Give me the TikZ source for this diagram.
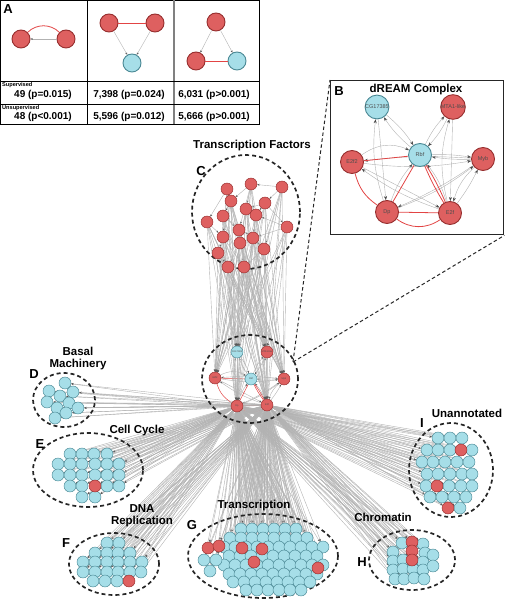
\documentclass[tikz,border=0pt]{standalone}
\usepackage{fontspec}
\setmainfont{Liberation Sans}
\usetikzlibrary{arrows.meta}

\definecolor{tfred}{RGB}{222,96,96}
\definecolor{tfrim}{RGB}{150,46,46}
\definecolor{geneblue}{RGB}{166,222,232}
\definecolor{generim}{RGB}{74,136,148}
\definecolor{linkgray}{RGB}{178,178,178}
\definecolor{linkred}{RGB}{226,68,68}

\pgfdeclarelayer{background}
\pgfsetlayers{background,main}

\tikzset{
  rnode/.style={circle, draw=tfrim, fill=tfred, line width=0.45pt, minimum size=12pt, inner sep=0pt},
  bnode/.style={circle, draw=generim, fill=geneblue, line width=0.45pt, minimum size=12pt, inner sep=0pt},
  motif/.style={minimum size=18pt, line width=0.9pt},
  dream/.style={minimum size=23pt, line width=0.9pt, font=\fontsize{5.5}{6}\selectfont, text=black!70},
  hubtext/.style={font=\fontsize{2.4}{3}\selectfont, text=black!70},
  groupring/.style={draw=black!85, line width=1.7pt, dash pattern=on 4pt off 3pt},
  zoomline/.style={draw=black!85, line width=1pt, dash pattern=on 3.5pt off 2.5pt},
  grouplabel/.style={font=\fontsize{11.5}{12}\selectfont\bfseries, align=center},
  panellabel/.style={font=\fontsize{13}{13}\selectfont\bfseries},
  tally/.style={font=\fontsize{10}{11}\selectfont\bfseries},
  rowhead/.style={font=\fontsize{5.6}{6}\selectfont\bfseries, anchor=west, inner sep=0pt},
  link/.style={draw=linkgray, line width=0.4pt},
  redlink/.style={draw=linkred, line width=0.8pt},
  arrowed/.style={-{Stealth[length=2.4pt,width=1.9pt,color=black!65]}},
  bigarrow/.style={-{Stealth[length=4pt,width=3pt,color=black!70]}}
}

\begin{document}
\begin{tikzpicture}[x=1pt,y=-1pt]
\useasboundingbox (0,0) rectangle (507,601);

% ---- A: motif table
\draw[line width=0.8pt] (0.5,0.5) rectangle (259.5,124.5);
\draw[line width=0.8pt] (87,0.5) -- (87,124.5);
\draw[line width=1.2pt, gray] (174,0.5) -- (174,124.5);
\draw[line width=0.8pt] (0.5,81) -- (259.5,81);
\draw[line width=0.6pt] (0.5,104) -- (259.5,104);
\node[panellabel] (letA) at (8,9) {A};

\node[rnode,motif] (mot1a) at (21,39) {};
\node[rnode,motif] (mot1b) at (66,39) {};
\draw[redlink] (mot1a) to[bend left=45] (mot1b);
\draw[link,arrowed] (mot1b) -- (mot1a);

\node[rnode,motif] (mot2a) at (109,23) {};
\node[rnode,motif] (mot2b) at (155,23) {};
\node[bnode,motif] (mot2c) at (132,63) {};
\draw[redlink] (mot2a) -- (mot2b);
\draw[link,arrowed] (mot2a) -- (mot2c);
\draw[link,arrowed] (mot2b) -- (mot2c);

\node[rnode,motif] (mot3a) at (216,22) {};
\node[rnode,motif] (mot3b) at (196,61) {};
\node[bnode,motif] (mot3c) at (237,61) {};
\draw[redlink] (mot3b) -- (mot3c);
\draw[link,arrowed] (mot3a) -- (mot3b);
\draw[link,arrowed] (mot3a) -- (mot3c);

\node[rowhead] (sup) at (2,85) {Supervised};
\node[rowhead] (unsup) at (2,108) {Unsupervised};
\node[tally] (s1) at (43,95) {49 (p=0.015)};
\node[tally] (s2) at (129,95) {7,398 (p=0.024)};
\node[tally] (s3) at (214,95) {6,031 (p>0.001)};
\node[tally] (u1) at (43,117) {48 (p<0.001)};
\node[tally] (u2) at (129,117) {5,596 (p=0.012)};
\node[tally] (u3) at (214,117) {5,666 (p>0.001)};

% ---- group outlines
\draw[groupring] (246,212) ellipse [x radius=54pt, y radius=57pt];
\draw[groupring] (250,379) ellipse [x radius=48pt, y radius=44pt];
\draw[groupring] (64,400) ellipse [x radius=31pt, y radius=27pt];
\draw[groupring] (88,470) ellipse [x radius=55pt, y radius=37pt];
\draw[groupring] (114,564) ellipse [x radius=45pt, y radius=31pt];
\draw[groupring] (263,556) ellipse [x radius=75pt, y radius=42pt];
\draw[groupring] (412,560) ellipse [x radius=43pt, y radius=30pt];
\draw[groupring] (451,470) ellipse [x radius=42pt, y radius=47pt];

% ---- B: zoom on the dREAM complex
\coordinate (zoomtip) at (293,362);
\node[draw=black!85, line width=1.4pt, minimum width=173pt, minimum height=154pt,
      inner sep=0pt, anchor=north west] (boxB) at (330,80) {};
\draw[zoomline] (zoomtip) -- (boxB.north west);
\draw[zoomline] (zoomtip) -- (boxB.south east);
\node[panellabel] (letB) at (339,91) {B};
\node[grouplabel] (titleB) at (416,90) {dREAM Complex};

\node[bnode,dream] (boxCG) at (377,107) {CG17385};
\node[rnode,dream] (boxMTA) at (453,107) {MTA1-like};
\node[bnode,dream] (boxRbf) at (420,155) {Rbf};
\node[rnode,dream] (boxE2f2) at (352,162) {E2f2};
\node[rnode,dream] (boxMyb) at (483,159) {Myb};
\node[rnode,dream] (boxDp) at (387,212) {Dp};
\node[rnode,dream] (boxE2f) at (450,213) {E2f};

% same complex inside the network
\node[bnode,hubtext] (hubCG) at (237,352) {CG17385};
\node[rnode,hubtext] (hubMTA) at (267,352) {MTA1-like};
\node[bnode,hubtext] (hubRbf) at (251,379) {Rbf};
\node[rnode,hubtext] (hubE2f2) at (215,378) {E2f2};
\node[rnode,hubtext] (hubMyb) at (284,379) {Myb};
\node[rnode,hubtext] (hubDp) at (237,406) {Dp};
\node[rnode,hubtext] (hubE2f) at (267,405) {E2f};

% ---- C: transcription factors
\foreach \x/\y [count=\i] in {227/189, 251/184, 282/187, 231/201, 246/209, 265/203, 223/216, 256/215,
    207/222, 239/230, 287/227, 223/237, 253/238, 240/243, 218/253, 264/249, 228/267, 244/267}
  \node[rnode] (tf\i) at (\x,\y) {};

% ---- D: basal machinery
\foreach \x/\y [count=\i] in {65/383, 49/391, 73/392, 60/396, 47/402, 69/403, 57/408, 66/413, 78/408, 55/418}
  \node[bnode] (bas\i) at (\x,\y) {};

% ---- E: cell cycle
\foreach \x/\y [count=\i] in {70/454, 82/454, 94/454, 107/454, 58/464, 70/464, 82/464, 95/464, 107/464, 119/464,
    58/475, 70/475, 82/475, 95/475, 107/475, 119/475, 70/486, 82/486, 107/486, 119/486, 82/497, 95/497}
  \node[bnode] (cyc\i) at (\x,\y) {};
\node[rnode] (cycr) at (95,486) {};

% ---- F: DNA replication
\foreach \x/\y [count=\i] in {107/543, 119/543, 95/553, 107/553, 118/553, 130/553, 83/562, 95/562, 107/562,
    118/562, 130/562, 142/562, 83/572, 95/572, 107/572, 118/572, 130/572, 141/572, 93/581, 105/581, 117/581}
  \node[bnode] (rep\i) at (\x,\y) {};
\node[rnode] (repr) at (129,581) {};

% ---- G: transcription
\foreach \r/\y/\xs/\n in {1/529/241/6, 2/538/230/8, 3/547/224/10, 4/556/229/9, 5/565/224/10,
    6/574/229/9, 7/582/233/8, 8/590/246/6}
  \foreach \k in {1,...,\n}
    \node[bnode] (trx\r-\k) at ({\xs+11*(\k-1)},\y) {};
\foreach \x/\y [count=\i] in {204/560, 216/560, 210/571}
  \node[bnode] (trxl\i) at (\x,\y) {};
\foreach \x/\y [count=\i] in {208/548, 219/546, 242/548, 262/549, 254/562, 318/568}
  \node[rnode] (trxr\i) at (\x,\y) {};

% ---- H: chromatin
\foreach \x/\y [count=\i] in {402/543, 423/544, 393/552, 425/553, 393/561, 403/560, 423/562, 433/555, 393/570,
    403/569, 413/569, 423/570, 433/566, 395/579, 404/579, 414/578, 424/579}
  \node[bnode] (chr\i) at (\x,\y) {};
\foreach \x/\y [count=\i] in {412/542, 412/551, 412/560}
  \node[rnode] (chrr\i) at (\x,\y) {};

% ---- I: unannotated
\foreach \x/\y [count=\i] in {438/438, 450/438, 462/438, 427/450, 438/450, 450/450, 472/450, 422/462, 433/462,
    445/462, 457/462, 469/462, 427/474, 438/474, 450/474, 462/474, 472/474, 426/486, 449/486, 461/486,
    472/486, 430/497, 442/497, 454/497, 466/497, 460/508}
  \node[bnode] (unk\i) at (\x,\y) {};
\foreach \x/\y [count=\i] in {461/450, 437/486, 448/508}
  \node[rnode] (unkr\i) at (\x,\y) {};

% ---- group titles
\node[grouplabel] (lblC) at (252,146) {Transcription Factors};
\node[panellabel] (letC) at (201,171) {C};
\node[grouplabel] (lblD) at (78,359) {Basal\\Machinery};
\node[panellabel] (letD) at (34,374) {D};
\node[grouplabel] (lblE) at (137,431) {Cell Cycle};
\node[panellabel] (letE) at (40,444) {E};
\node[grouplabel] (lblF) at (142,516) {DNA\\Replication};
\node[panellabel] (letF) at (66,543) {F};
\node[grouplabel] (lblG) at (254,506) {Transcription};
\node[panellabel] (letG) at (192,525) {G};
\node[grouplabel] (lblH) at (383,517) {Chromatin};
\node[panellabel] (letH) at (362,562) {H};
\node[grouplabel] (lblI) at (467,413) {Unannotated};
\node[panellabel] (letI) at (422,423) {I};

% ---- edges, behind everything
\begin{pgfonlayer}{background}
  % inside the complex (panel B and hub)
  \foreach \s/\t/\b in {Rbf/CG/8, CG/Rbf/8, CG/Dp/0, Dp/CG/12, Rbf/MTA/8, MTA/Rbf/8, MTA/E2f/0,
      E2f/MTA/15, Myb/Rbf/5, Rbf/Myb/5, Myb/Dp/5, Myb/E2f/-15, E2f/Myb/-5, E2f2/Rbf/30,
      E2f2/Myb/-8, Myb/E2f2/-5, E2f2/E2f/0, E2f/E2f2/8, Dp/Rbf/10, E2f/Rbf/-10, Dp/Myb/-8} {
    \draw[link,bigarrow] (box\s) to[bend left=\b] (box\t);
    \draw[link,arrowed] (hub\s) to[bend left=\b] (hub\t);
  }
  \foreach \s/\t/\b in {E2f2/Rbf/0, E2f2/Dp/-20, Rbf/Dp/0, Rbf/E2f/4, Rbf/E2f/-4, Dp/E2f/0, Dp/E2f/-35} {
    \draw[redlink] (box\s) to[bend left=\b] (box\t);
    \draw[redlink, line width=0.5pt] (hub\s) to[bend left=\b] (hub\t);
  }
  % inside C
  \foreach \s/\t in {3/2, 3/6, 2/4, 2/5, 1/4, 4/7, 5/8, 6/5, 6/8, 7/10, 9/12, 10/14, 8/13, 11/8,
      11/13, 12/15, 13/16, 14/17, 15/17, 16/18, 10/18, 9/17, 1/9, 3/16, 5/14, 4/12, 7/13, 2/10,
      12/18, 6/11, 1/12}
    \draw[link,arrowed] (tf\s) -- (tf\t);
  % C to the complex
  \foreach \i in {1,...,18}
    \foreach \h in {CG, MTA, E2f2, Myb, Dp, E2f}
      \draw[link,arrowed] (tf\i) -- (hub\h);
  % complex to the other groups
  \foreach \h in {Dp, E2f} {
    \foreach \i in {1,...,10} \draw[link,arrowed] (hub\h) -- (bas\i);
    \foreach \i in {1,...,22} \draw[link,arrowed] (hub\h) -- (cyc\i);
    \draw[link,arrowed] (hub\h) -- (cycr);
    \foreach \i in {1,...,21} \draw[link,arrowed] (hub\h) -- (rep\i);
    \draw[link,arrowed] (hub\h) -- (repr);
    \foreach \r/\n in {1/6, 2/8, 3/10, 4/9, 5/10, 6/9, 7/8, 8/6}
      \foreach \k in {1,...,\n} \draw[link,arrowed] (hub\h) -- (trx\r-\k);
    \foreach \i in {1,2,3} \draw[link,arrowed] (hub\h) -- (trxl\i);
    \foreach \i in {1,...,6} \draw[link,arrowed] (hub\h) -- (trxr\i);
    \foreach \i in {1,...,17} \draw[link,arrowed] (hub\h) -- (chr\i);
    \foreach \i in {1,2,3} \draw[link,arrowed] (hub\h) -- (chrr\i);
    \foreach \i in {1,...,26} \draw[link,arrowed] (hub\h) -- (unk\i);
    \foreach \i in {1,2,3} \draw[link,arrowed] (hub\h) -- (unkr\i);
  }
\end{pgfonlayer}

\end{tikzpicture}
\end{document}
